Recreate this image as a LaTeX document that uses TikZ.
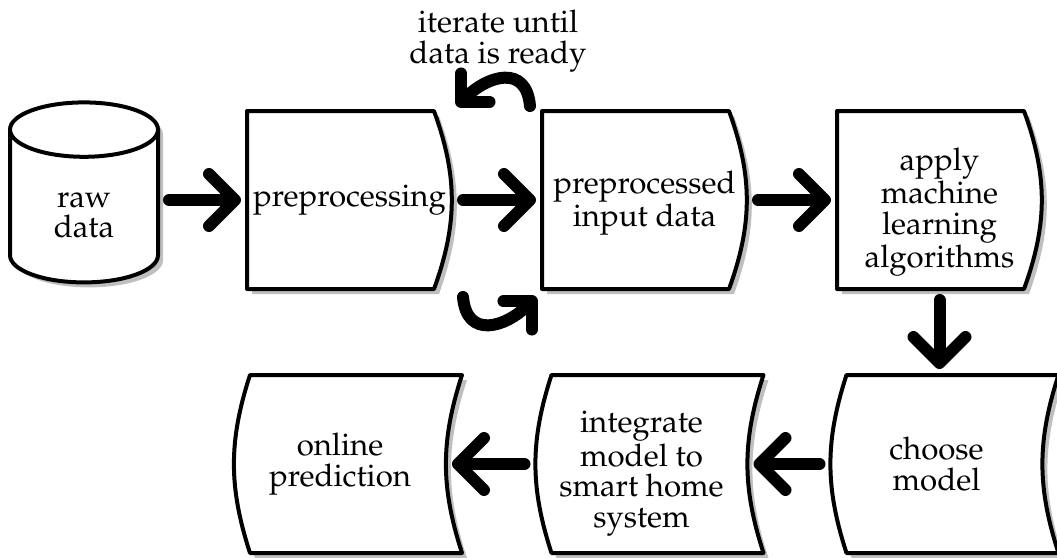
\documentclass[tikz,border=0pt]{standalone}
\usepackage[T1]{fontenc}
\usepackage{mathpazo}
\usetikzlibrary{positioning, arrows.meta, shapes.geometric, shadows, backgrounds}

\begin{document}
\begin{tikzpicture}[
        x=0.5pt, y=0.5pt,
        node distance=45pt,
        font=\fontsize{15.6}{15.4}\selectfont,
        % grey shadow under every box
        boxshadow/.style={drop shadow={shadow xshift=2.5pt, shadow yshift=-2.5pt, fill=black!25, opacity=1}},
        boxline/.style={line width=2pt, line join=round, fill=white, boxshadow},
        store/.style={cylinder, shape border rotate=90, aspect=0.9, draw, line width=2pt, fill=white, boxshadow,
            minimum width=74pt, minimum height=90pt, align=center, inner sep=0pt, outer sep=0pt},
        procbox/.style={minimum width=102.5pt, minimum height=89pt, align=center, inner sep=0pt, outer sep=0pt},
        wavebox/.style={minimum width=106pt, minimum height=89pt, align=center, inner sep=0pt, outer sep=0pt},
        flowarrow/.style={line width=6pt, line cap=round, shorten <=5.5pt, shorten >=3pt,
            -{Straight Barb[length=13pt, width=26pt, line cap=round, line join=round]}},
        backflow/.style={line width=6pt, line cap=round, looseness=1.5,
            -{Straight Barb[length=10pt, width=20pt, line cap=round, line join=round]}}
    ]
        \useasboundingbox (0,0) rectangle (1057,-558);

        % top row
        \node[store, text height=31pt] (raw) at (84,-207) {raw\\data};
        \node[procbox] (pre) at (349.5,-200) {preprocessing};
        \node[procbox, right=of pre, text height=31pt] (ppd) {preprocessed\\input data};
        \node[procbox, right=of ppd, text height=72pt] (apply) {apply\\machine\\learning\\algorithms};

        % bottom row
        \node[wavebox, below=43pt of apply, xshift=-1.5pt] (choose) {choose\\model};
        \node[wavebox, left=41.5pt of choose, text height=68pt] (integ) {integrate\\model to\\smart home\\system};
        \node[wavebox, left=44.75pt of integ] (online) {online\\prediction};

        \node[align=center] (note) at (498,-41) {iterate until\\data is ready};

        % outlines
        \begin{scope}[on background layer]
            \foreach \n in {pre, ppd, apply}
                \draw[boxline] (\n.north west) -- ([xshift=-9pt]\n.north east) to[bend left=20]
                    ([xshift=-9pt]\n.south east) -- (\n.south west) -- cycle;
            \foreach \n in {choose, integ, online}
                \draw[boxline] ([xshift=8pt]\n.north west) -- ([xshift=8pt]\n.north east) to[bend right=18]
                    ([xshift=8pt]\n.south east) -- ([xshift=8pt]\n.south west) to[bend left=18]
                    ([xshift=8pt]\n.north west) -- cycle;
        \end{scope}

        % connectors
        \draw[flowarrow] (raw.east |- pre) -- (pre);
        \draw[flowarrow] (pre) -- (ppd);
        \draw[flowarrow] (ppd) -- (apply);
        \draw[flowarrow] (apply.south) -- (apply.south |- choose.north);
        \draw[flowarrow] (choose) -- (integ);
        \draw[flowarrow] (integ) -- (online);

        % iterate loop
        \coordinate (itTopA) at (530,-106);
        \coordinate (itTopB) at (457,-106);
        \coordinate (itBotA) at (463,-297);
        \coordinate (itBotB) at (536,-297);
        \draw[backflow] (itTopA) to[out=95, in=45] (itTopB);
        \draw[backflow] (itBotA) to[out=-85, in=225] (itBotB);
\end{tikzpicture}
\end{document}
